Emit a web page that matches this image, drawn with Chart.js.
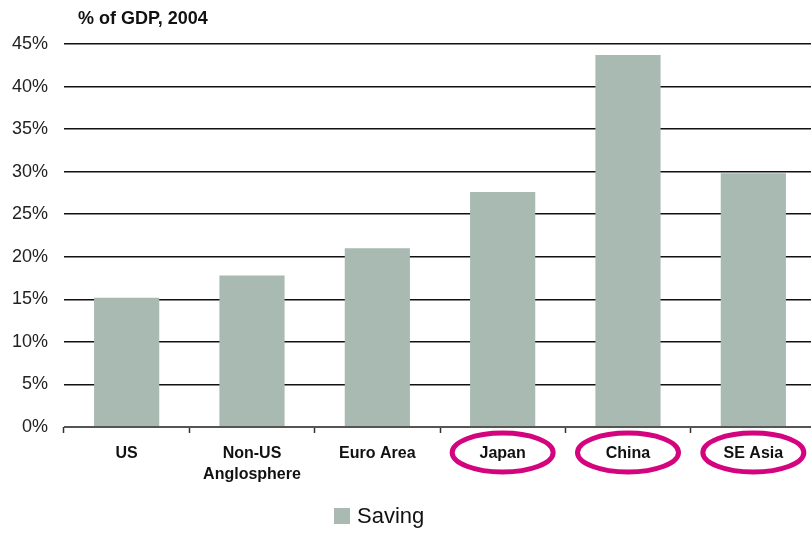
<!DOCTYPE html>
<html>
<head>
<meta charset="utf-8">
<script src="https://cdn.jsdelivr.net/npm/chart.js@4/dist/chart.umd.min.js"></script>
<style>
  html, body { margin: 0; padding: 0; overflow: hidden; background: #fff; }
  #wrap { width: 816px; height: 533px; position: relative; }
</style>
</head>
<body>
<div id="wrap"><canvas id="c"></canvas></div>
<script>
// Gross saving by region, % of GDP, 2004
const categories = ['US', ['Non-US', 'Anglosphere'], 'Euro Area', 'Japan', 'China', 'SE Asia'];
const saving = [15.2, 17.8, 21.0, 27.6, 43.7, 29.8];
const highlighted = [3, 4, 5];          // regions circled below the axis
const yTicks = [0, 5, 10, 15, 20, 25, 30, 35, 40, 45];
const unitTitle = '% of GDP, 2004';
const seriesName = 'Saving';

const FONT = '"Liberation Sans", Arial, Helvetica, sans-serif';
const BAR = '#a9bab2';
const PINK = '#d4047f';

const extras = {
  id: 'extras',
  afterDraw(chart) {
    const ctx = chart.ctx;
    const x = chart.scales.x;
    ctx.save();
    // unit title
    ctx.fillStyle = '#111';
    ctx.font = 'bold 18px ' + FONT;
    ctx.textAlign = 'left';
    ctx.textBaseline = 'alphabetic';
    ctx.fillText(unitTitle, 78, 24);

    // rings round the highlighted regions
    ctx.strokeStyle = PINK;
    ctx.lineWidth = 5;
    highlighted.forEach(i => {
      const cx = x.getPixelForValue(i);
      ctx.beginPath();
      ctx.ellipse(cx, 452.5, 50.5, 19.5, 0, 0, Math.PI * 2);
      ctx.stroke();
    });

    // legend
    const ds = chart.data.datasets[0];
    ctx.fillStyle = ds.backgroundColor;
    ctx.fillRect(334, 508, 16, 16);
    ctx.fillStyle = '#111';
    ctx.font = '22px ' + FONT;
    ctx.textBaseline = 'middle';
    ctx.fillText(ds.label, 357, 517);
    ctx.restore();
  }
};

new Chart(document.getElementById('c'), {
  type: 'bar',
  data: {
    labels: categories,
    datasets: [{
      label: seriesName,
      data: saving,
      backgroundColor: BAR,
      borderWidth: 0,
      barPercentage: 0.52,
      categoryPercentage: 1.0
    }]
  },
  options: {
    responsive: true,
    maintainAspectRatio: false,
    animation: false,
    layout: { padding: { top: 44, right: 0, bottom: 0, left: 0 } },
    plugins: {
      legend: { display: false },
      tooltip: { enabled: false },
      title: { display: false }
    },
    scales: {
      x: {
        offset: true,
        grid: {
          offset: true,
          drawOnChartArea: false,
          drawTicks: true,
          tickLength: 6,
          tickWidth: 1.5,
          tickColor: '#333'
        },
        border: { display: false },
        ticks: {
          color: '#111',
          font: { family: FONT, size: 16, weight: 'bold', lineHeight: 1.3 },
          padding: 10,
          maxRotation: 0,
          autoSkip: false
        },
        afterFit: s => { s.height = 106; }
      },
      y: {
        min: 0,
        max: 45,
        afterBuildTicks: s => { s.ticks = yTicks.map(v => ({ value: v })); },
        grid: {
          drawTicks: false,
          color: c => c.tick && c.tick.value === 0 ? '#555' : '#111',
          lineWidth: c => c.tick && c.tick.value === 0 ? 2 : 1.5
        },
        border: { display: false },
        ticks: {
          color: '#222',
          font: { family: FONT, size: 18 },
          padding: 16,
          callback: v => v + '%'
        },
        afterFit: s => { s.width = 64; }
      }
    }
  },
  plugins: [extras]
});
</script>
</body>
</html>
